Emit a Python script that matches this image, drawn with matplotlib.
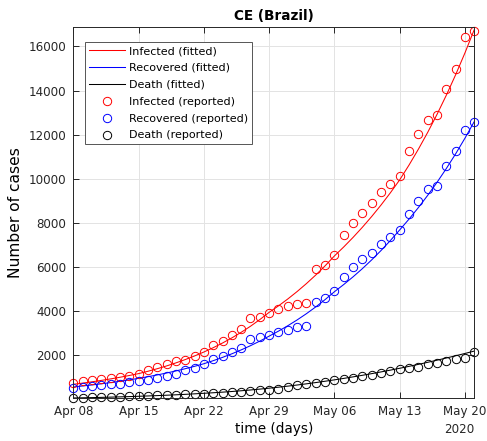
import numpy as np
import matplotlib
matplotlib.use("Agg")
import matplotlib.pyplot as plt
import matplotlib.dates as mdates

# days from Apr 08 2020 to May 21 2020
dates = np.arange(np.datetime64("2020-04-08"), np.datetime64("2020-05-22"))
tick_dates = dates[::7]

infected_rep = [740, 820, 865, 910, 955, 1015, 1075, 1150, 1320, 1450, 1600, 1740, 1800, 1985,
                2130, 2485, 2635, 2920, 3200, 3665, 3740, 3925, 4075, 4225, 4320, 4350, 5895, 6090,
                6545, 7440, 8015, 8440, 8895, 9380, 9770, 10105, 11280, 12045, 12680, 12910, 14080,
                15000, 16450, 16680]
recovered_rep = [530, 560, 590, 635, 680, 710, 770, 830, 895, 985, 1075, 1170, 1350, 1440,
                 1580, 1850, 1955, 2150, 2330, 2715, 2805, 2910, 3045, 3165, 3285, 3335, 4425, 4575,
                 4925, 5560, 6000, 6350, 6650, 7045, 7380, 7680, 8410, 9000, 9530, 9695, 10560,
                 11240, 12230, 12590]
death_rep = [60, 75, 85, 95, 105, 115, 130, 145, 160, 175, 190, 205, 225, 240,
             260, 290, 305, 330, 350, 375, 410, 440, 485, 560, 640, 685, 725, 795,
             865, 910, 985, 1075, 1120, 1195, 1285, 1395, 1425, 1470, 1620, 1665, 1740,
             1830, 1880, 2165]

infected_fit = [680, 734, 793, 857, 925, 999, 1079, 1165, 1271, 1387, 1513, 1651, 1801, 1965,
                2144, 2339, 2552, 2784, 3037, 3313, 3615, 3944, 4236, 4549, 4886, 5248, 5636, 6053,
                6501, 6909, 7342, 7802, 8291, 8811, 9364, 9951, 10622, 11338, 12102, 12918, 13789,
                14718, 15710, 16769]
recovered_fit = [560, 604, 651, 702, 757, 817, 881, 950, 1025, 1105, 1192, 1286, 1387, 1495,
                 1613, 1751, 1901, 2063, 2240, 2431, 2639, 2865, 3091, 3336, 3599, 3883, 4190, 4521,
                 4878, 5205, 5554, 5926, 6323, 6747, 7199, 7681, 8171, 8692, 9247, 9837, 10464,
                 11132, 11842, 12597]
death_fit = [60, 68, 77, 87, 98, 110, 123, 137, 152, 168, 185, 204, 225, 248,
             273, 297, 324, 354, 387, 423, 462, 504, 549, 597, 648, 702, 759, 819,
             882, 948, 1017, 1089, 1164, 1242, 1323, 1407, 1494, 1584, 1677, 1773, 1872,
             1974, 2079, 2187]

fig = plt.figure(figsize=(4.87, 4.41), dpi=100)
ax = fig.add_axes([0.1505, 0.0968, 0.8234, 0.8413])

lw = 0.75
ax.plot(dates, infected_fit, color="red", lw=lw, label="Infected (fitted)")
ax.plot(dates, recovered_fit, color="blue", lw=lw, label="Recovered (fitted)")
ax.plot(dates, death_fit, color="black", lw=lw, label="Death (fitted)")

mk = dict(ls="none", marker="o", ms=6.0, mfc="none", mew=0.7, clip_on=False)
ax.plot(dates, infected_rep, mec="red", label="Infected (reported)", **mk)
ax.plot(dates, recovered_rep, mec="blue", label="Recovered (reported)", **mk)
ax.plot(dates, death_rep, mec="black", label="Death (reported)", **mk)

ax.set_xlim(dates[0], dates[-1])
ax.set_ylim(45, 16870)
ax.set_yticks(np.arange(2000, 16001, 2000))
ax.set_xticks(tick_dates)
ax.xaxis.set_major_formatter(mdates.DateFormatter("%b %d"))

ax.grid(True, color="#e3e3e3", lw=0.7)
ax.set_axisbelow(True)
for s in ax.spines.values():
    s.set_color("#262626")
    s.set_linewidth(0.7)
ax.tick_params(direction="in", top=True, right=True, length=4, width=0.7,
               colors="#262626", labelsize=8.6, pad=5)

ax.set_title("CE (Brazil)", fontsize=9.8, fontweight="bold", pad=5)
ax.set_xlabel("time (days)", fontsize=9.8, labelpad=3)
ax.set_ylabel("Number of cases", fontsize=11.2, labelpad=4)
ax.text(1.0, -0.085, "2020", transform=ax.transAxes, ha="right", va="center", fontsize=8.6,
        color="#262626")

leg = ax.legend(loc="upper left", bbox_to_anchor=(0.03, 0.96), fontsize=8, fancybox=False,
                framealpha=1, edgecolor="#555555", handlelength=3.2, handletextpad=0.35,
                labelspacing=0.62, borderpad=0.35, borderaxespad=0)
leg.get_frame().set_linewidth(0.7)

plt.savefig("out.png", dpi=100)
